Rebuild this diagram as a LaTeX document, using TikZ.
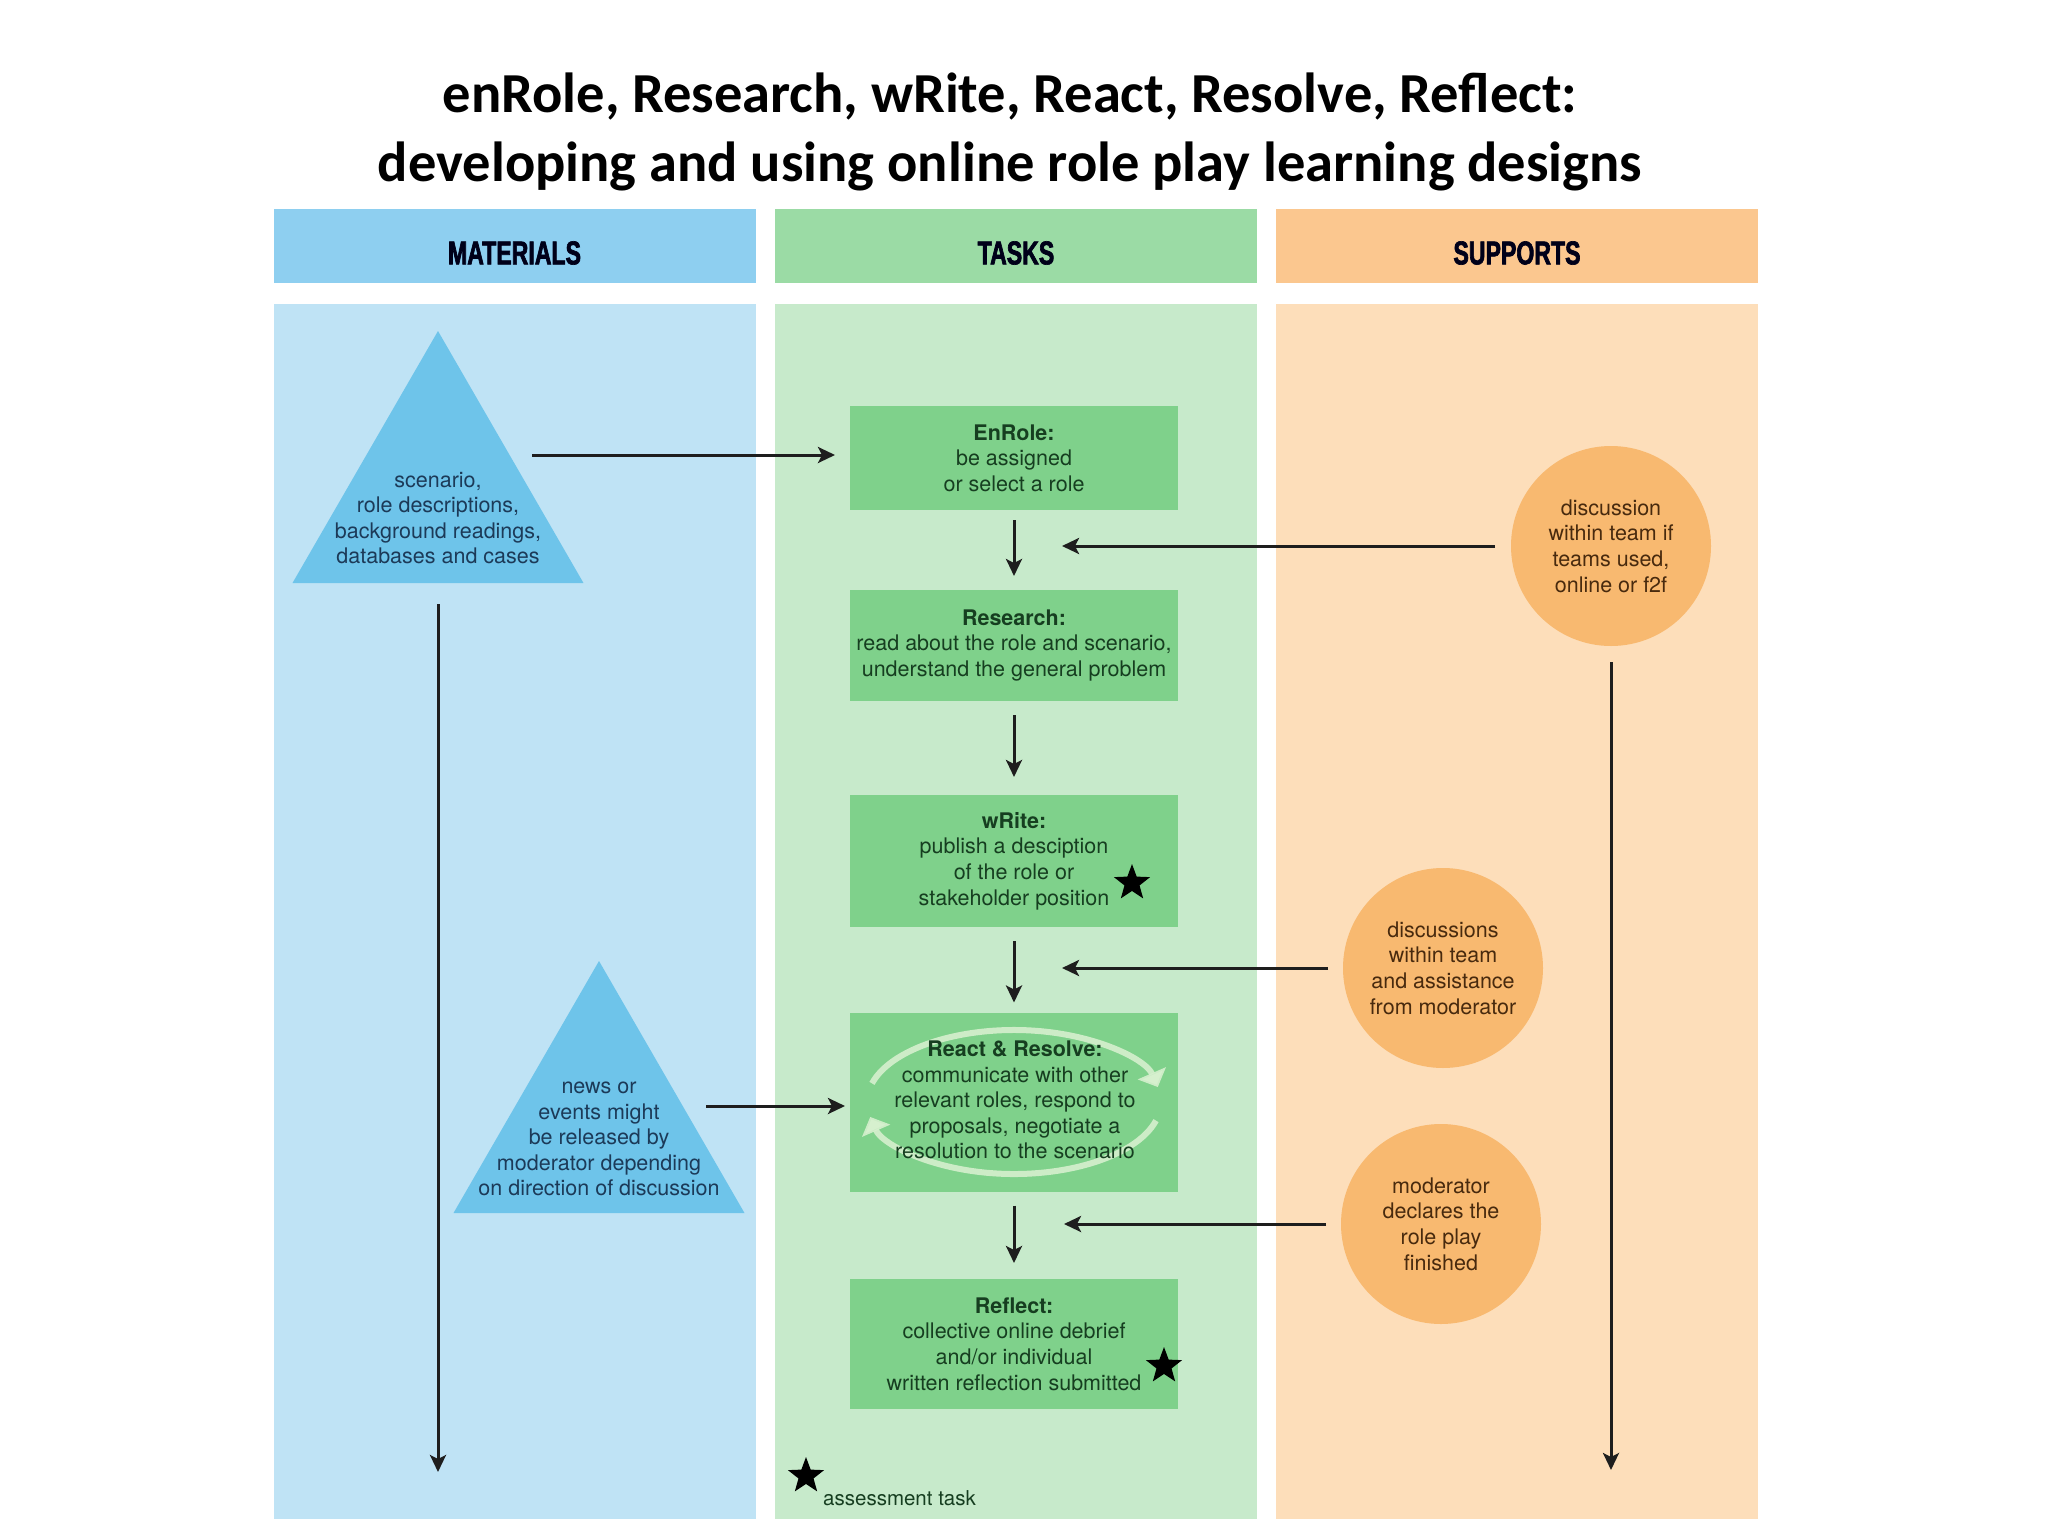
\documentclass[tikz,border=0pt]{standalone}
\usepackage{fontspec}
\setmainfont{TeX Gyre Heros}
\newfontfamily\titlefont{Carlito}
\newfontfamily\hdrfont[FakeStretch=0.70,FakeBold=2]{Liberation Sans}
\usetikzlibrary{shapes.geometric,arrows.meta,calc}
\definecolor{matH}{RGB}{142,207,240}
\definecolor{matB}{RGB}{191,227,245}
\definecolor{matTri}{RGB}{110,196,234}
\definecolor{tskH}{RGB}{155,219,165}
\definecolor{tskB}{RGB}{199,234,203}
\definecolor{tskBox}{RGB}{127,209,139}
\definecolor{supH}{RGB}{251,199,143}
\definecolor{supB}{RGB}{253,222,186}
\definecolor{supC}{RGB}{248,185,112}
\definecolor{matTxt}{RGB}{28,58,88}
\definecolor{tskTxt}{RGB}{22,62,32}
\definecolor{supTxt}{RGB}{72,42,14}
\definecolor{arrCol}{RGB}{30,30,30}
\definecolor{ringCol}{RGB}{214,240,206}
\newcommand\bodyfs{\fontsize{21.5pt}{25.6pt}\selectfont}
\begin{document}
\begin{tikzpicture}[x=1pt,y=-1pt,
  hdrbox/.style={rectangle, inner sep=0pt, outer sep=0pt, minimum width=482pt, minimum height=74pt},
  colbox/.style={rectangle, inner sep=0pt, outer sep=0pt, minimum width=482pt, minimum height=1215pt},
  hdrtxt/.style={font=\hdrfont\bfseries\fontsize{33pt}{33pt}\selectfont, text=black!90!blue, inner sep=0pt},
  taskbox/.style={rectangle, fill=tskBox, minimum width=328pt, inner sep=0pt, outer sep=0pt, align=center, text=tskTxt, font=\bodyfs},
  supcirc/.style={circle, fill=supC, minimum size=200pt, inner sep=0pt, outer sep=0pt, align=center, text=supTxt, font=\bodyfs},
  mattri/.style={regular polygon, regular polygon sides=3, fill=matTri, minimum size=336pt, inner sep=0pt, outer sep=0pt},
  mattxt/.style={align=center, text=matTxt, font=\bodyfs, inner sep=0pt},
  arr/.style={draw=arrCol, line width=3pt, -{Stealth[length=17pt,width=16pt,inset=4pt]}},
  ring/.style={draw=ringCol, draw opacity=0.9, line width=6pt, -{Triangle[length=15pt,width=30pt]}},
  starmark/.style={star, star points=5, star point ratio=2.4, fill=black, minimum size=38pt, inner sep=0pt, outer sep=0pt}
]
\useasboundingbox (0,0) rectangle (2048,1536);
\fill[white] (0,0) rectangle (2048,1536);

% title
\node[anchor=base, font=\titlefont\bfseries\fontsize{56.5pt}{69pt}\selectfont] (title1) at (1010,113) {enRole, Research, wRite, React, Resolve, Reflect:};
\node[anchor=base, font=\titlefont\bfseries\fontsize{56.5pt}{69pt}\selectfont] (title2) at (1010,182) {developing and using online role play learning designs};

% columns
\node[hdrbox, fill=matH] (hmat) at (514.5,246) {};
\node[hdrbox, fill=tskH] (htsk) at (1016,246) {};
\node[hdrbox, fill=supH] (hsup) at (1517,246) {};
\node[hdrtxt] (lmat) at (514.5,253) {MATERIALS};
\node[hdrtxt] (ltsk) at (1016,253) {TASKS};
\node[hdrtxt] (lsup) at (1517,253) {SUPPORTS};
\node[colbox, fill=matB] (cmat) at (514.5,911.5) {};
\node[colbox, fill=tskB] (ctsk) at (1016,911.5) {};
\node[colbox, fill=supB] (csup) at (1517,911.5) {};

% materials
\node[mattri] (tri1) at (438,499) {};
\node[mattxt] (tri1t) at (438,518) {scenario,\\role descriptions,\\background readings,\\databases and cases};
\node[mattri] (tri2) at (599,1129) {};
\node[mattxt] (tri2t) at (599,1139) {news or\\events might\\be released by\\moderator depending\\on direction of discussion};

% tasks
\node[taskbox, minimum height=104pt] (enrole) at (1014,458) {\textbf{EnRole:}\\be assigned\\or select a role};
\node[taskbox, minimum height=111pt] (research) at (1014,645.5) {\textbf{Research:}\\read about the role and scenario,\\understand the general problem};
\node[taskbox, minimum height=132pt] (write) at (1014,861) {\textbf{wRite:}\\publish a desciption\\of the role or\\stakeholder position};
\node[taskbox, minimum height=179pt] (react) at (1014,1102) {};
\draw[ring] ([shift={(195:147 and 72)}]react.center) arc[start angle=195, end angle=348, x radius=147, y radius=72];
\draw[ring] ([shift={(15:147 and 72)}]react.center) arc[start angle=15, end angle=168, x radius=147, y radius=72];
\node[align=center, text=tskTxt, font=\bodyfs, inner sep=0pt] (reactt) at (1015,1100) {\textbf{React \& Resolve:}\\communicate with other\\relevant roles, respond to\\proposals, negotiate a\\resolution to the scenario};
\node[taskbox, minimum height=130pt] (reflect) at (1014,1344) {\textbf{Reflect:}\\collective online debrief\\and/or individual\\written reflection submitted};
\node[starmark] (star1) at (1132,883) {};
\node[starmark] (star2) at (1164,1366) {};
\node[starmark] (star3) at (806,1476) {};
\node[anchor=base west, text=tskTxt, font=\fontsize{20.5pt}{24pt}\selectfont, inner sep=0pt] (legend) at (823,1505) {assessment task};

% supports
\node[supcirc] (c1) at (1611,546) {discussion\\within team if\\teams used,\\online or f2f};
\node[supcirc] (c2) at (1443,968) {discussions\\within team\\and assistance\\from moderator};
\node[supcirc] (c3) at (1441,1224) {moderator\\declares the\\role play\\finished};

% connectors
\coordinate (t1out) at (532,455);
\coordinate (t2out) at (706,1106);
\coordinate (matend) at (438,1472);
\coordinate (supend) at (1611,1470);
\coordinate (c1end) at (1062,546);
\coordinate (c2end) at (1062,968);
\coordinate (c3end) at (1064,1224);
\draw[arr, shorten >=15pt] (t1out) -- (enrole.west |- t1out);
\draw[arr, shorten >=5pt] (t2out) -- (react.west |- t2out);
\draw[arr, shorten <=21pt] (tri1.south) -- (matend);
\draw[arr, shorten <=16pt] (c1) -- (supend);
\draw[arr, shorten <=16pt] (c1) -- (c1end);
\draw[arr, shorten <=15pt] (c2) -- (c2end);
\draw[arr, shorten <=15pt] (c3) -- (c3end);
\draw[arr, shorten <=10pt, shorten >=14pt] (enrole) -- (research);
\draw[arr, shorten <=14pt, shorten >=18pt] (research) -- (write);
\draw[arr, shorten <=14pt, shorten >=10pt] (write) -- (react);
\draw[arr, shorten <=14pt, shorten >=16pt] (react) -- (reflect);
\end{tikzpicture}
\end{document}
